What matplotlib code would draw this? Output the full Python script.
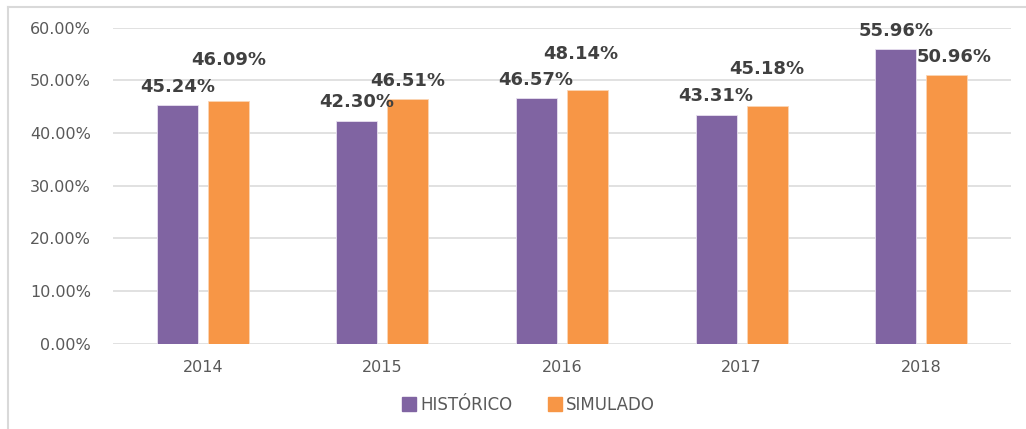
import matplotlib
matplotlib.use("Agg")
import matplotlib.pyplot as plt
from matplotlib.lines import Line2D
from matplotlib.ticker import FuncFormatter
import numpy as np

plt.rcParams["font.family"] = ["DejaVu Sans"]

# ---- data ----
years = ["2014", "2015", "2016", "2017", "2018"]
historico = [45.24, 42.30, 46.57, 43.31, 55.96]
simulado = [46.09, 46.51, 48.14, 45.18, 50.96]
series_names = ["HISTÓRICO", "SIMULADO"]

# ---- styling / label placement (pixel offsets from bar top to label centre) ----
colors = ["#8064A2", "#F79646"]
hist_label_offsets = [(0, 18), (0, 19), (-1, 18), (0, 19), (0, 18)]
sim_label_offsets = [(0, 41), (0, 18), (-7, 36), (0, 37), (7, 18)]

DPI = 100
fig = plt.figure(figsize=(10.26, 4.29), dpi=DPI)
ax = fig.add_axes([113 / 1026, (429 - 343.5) / 429, (1011 - 113) / 1026, (343.5 - 27.5) / 429])

x = np.arange(len(years))
w = 0.228
off = 0.142
b1 = ax.bar(x - off, historico, w, color=colors[0], edgecolor="#E8E0F0", linewidth=0.6, zorder=3)
b2 = ax.bar(x + off, simulado, w, color=colors[1], edgecolor="#FBD5B5", linewidth=0.6, zorder=3)

px2pt = 72 / DPI
for bars, vals, offs in [(b1, historico, hist_label_offsets), (b2, simulado, sim_label_offsets)]:
    for rect, v, (dx, dy) in zip(bars, vals, offs):
        ax.annotate(f"{v:.2f}%", xy=(rect.get_x() + rect.get_width() / 2, v),
                    xytext=(dx * px2pt, dy * px2pt), textcoords="offset points",
                    ha="center", va="center", fontsize=13, fontweight="bold",
                    color="#404040", zorder=5, annotation_clip=False)

ax.set_xlim(-0.5, len(years) - 0.5)
ax.set_ylim(0, 60)
ax.set_yticks(np.arange(0, 61, 10))
ax.yaxis.set_major_formatter(FuncFormatter(lambda v, p: f"{v:.2f}%"))
ax.set_xticks(x)
ax.set_xticklabels(years)
ax.tick_params(axis="y", length=0, pad=16, labelsize=11.5, labelcolor="#595959")
ax.tick_params(axis="x", length=0, pad=12, labelsize=11.5, labelcolor="#595959")
ax.grid(axis="y", color="#D9D9D9", linewidth=1.1, zorder=0)
ax.set_axisbelow(True)
for s in ax.spines.values():
    s.set_visible(False)

# legend
handles = [Line2D([0], [0], marker="s", linestyle="none", markersize=10,
                  markerfacecolor=c, markeredgecolor=c) for c in colors]
fig.legend(handles, series_names, loc="center", bbox_to_anchor=(528 / 1026, 1 - 405 / 429),
           ncol=2, frameon=False, fontsize=12, labelcolor="#595959",
           handletextpad=0.2, columnspacing=2.0, handlelength=1.0)

# outer chart frame (left and top edges visible)
fig.add_artist(Line2D([8 / 1026, 8 / 1026], [0, 1 - 6.5 / 429], transform=fig.transFigure,
                      color="#D9D9D9", linewidth=1.5))
fig.add_artist(Line2D([8 / 1026, 1], [1 - 6.5 / 429, 1 - 6.5 / 429], transform=fig.transFigure,
                      color="#D9D9D9", linewidth=1.5))

fig.savefig("out.png", dpi=DPI, facecolor="white")
